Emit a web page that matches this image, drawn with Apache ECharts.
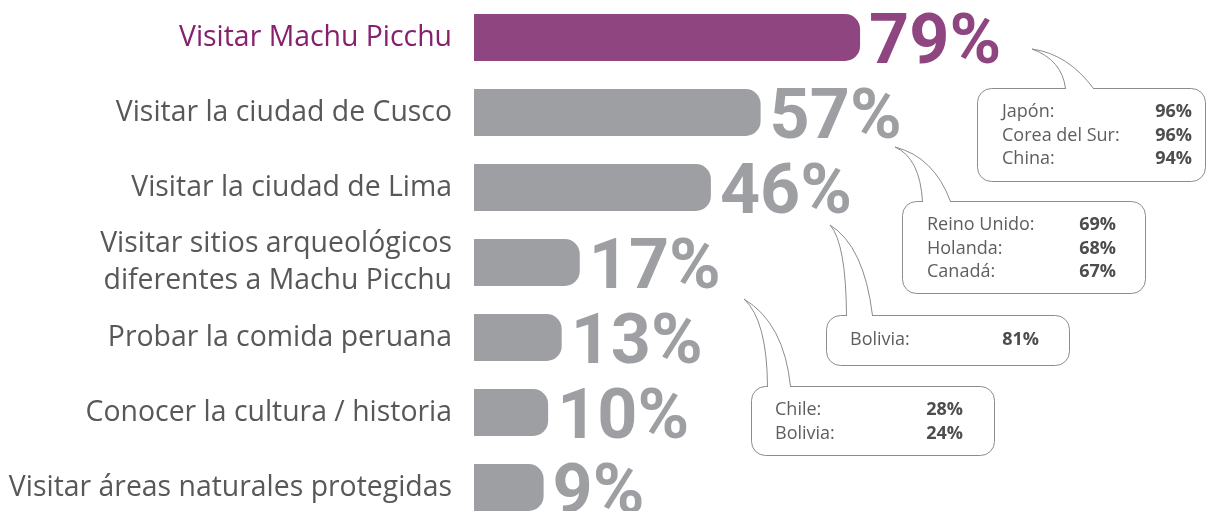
<!DOCTYPE html>
<html>
<head>
<meta charset="utf-8">
<script src="https://cdn.jsdelivr.net/npm/echarts@6/dist/echarts.min.js"></script>
<style>
html, body { margin: 0; padding: 0; background: #fff; }
#main { width: 1211px; height: 511px; }
</style>
</head>
<body>
<div id="main"></div>
<script>
var categorias = [
    'Visitar Machu Picchu',
    'Visitar la ciudad de Cusco',
    'Visitar la ciudad de Lima',
    'Visitar sitios arqueológicos\ndiferentes a Machu Picchu',
    'Probar la comida peruana',
    'Conocer la cultura / historia',
    'Visitar áreas naturales protegidas'
];
var valores = [79, 57, 46, 17, 13, 10, 9];
// paises destacados por motivo (globos)
var paises = [
    ['Japón:', 'Corea del Sur:', 'China:'],
    ['Reino Unido:', 'Holanda:', 'Canadá:'],
    ['Bolivia:'],
    ['Chile:', 'Bolivia:']
];
var paisesValores = [
    [96, 96, 94],
    [69, 68, 67],
    [81],
    [28, 24]
];

var morado = '#8f4580';
var gris = '#9e9fa3';
var linea = '#8c8c8c';

var myChart = echarts.init(document.getElementById('main'));

// posicion de cada globo (solo maquetacion)
var globos = [
    {x: 977, y: 88, w: 228, h: 93, tip: [1032, 49], bl: 1065, br: 1093, cl: [1062, 60], cr: [1068, 54], tx: 1002, vx: 1192, ty: 112},
    {x: 902, y: 201, w: 243, h: 92, tip: [895, 147], bl: 922, br: 950, cl: [920, 158], cr: [934, 157], tx: 927, vx: 1116, ty: 225},
    {x: 826, y: 315, w: 243, h: 50, tip: [830, 225], bl: 846, br: 872, cl: [846, 243], cr: [864, 246], tx: 850, vx: 1039, ty: 340},
    {x: 751, y: 386, w: 243, h: 69, tip: [744, 299], bl: 767, br: 790, cl: [767, 320], cr: [784, 323], tx: 775, vx: 963, ty: 410}
];

var graficos = [];
globos.forEach(function (g, k) {
    graficos.push({
        type: 'rect', z: 10,
        shape: {x: g.x + 0.5, y: g.y + 0.5, width: g.w, height: g.h, r: 14},
        style: {fill: '#fff', stroke: linea, lineWidth: 1}
    });
    graficos.push({
        type: 'rect', z: 11,
        shape: {x: g.bl + 1, y: g.y - 1, width: g.br - g.bl - 1, height: 3},
        style: {fill: '#fff'}
    });
    graficos.push({
        type: 'bezierCurve', z: 12,
        shape: {x1: g.tip[0], y1: g.tip[1], x2: g.bl + 0.5, y2: g.y + 0.5, cpx1: g.cl[0], cpy1: g.cl[1]},
        style: {stroke: linea, lineWidth: 1, fill: null}
    });
    graficos.push({
        type: 'bezierCurve', z: 12,
        shape: {x1: g.tip[0], y1: g.tip[1], x2: g.br + 0.5, y2: g.y + 0.5, cpx1: g.cr[0], cpy1: g.cr[1]},
        style: {stroke: linea, lineWidth: 1, fill: null}
    });
    paises[k].forEach(function (p, j) {
        graficos.push({
            type: 'text', z: 13, x: g.tx, y: g.ty + j * 23.5,
            style: {text: p, fill: '#5e5e60', font: '18px "Open Sans"', textAlign: 'left', textVerticalAlign: 'middle'}
        });
        graficos.push({
            type: 'text', z: 13, x: g.vx, y: g.ty + j * 23.5,
            style: {text: paisesValores[k][j] + '%', fill: '#4d4d4f', font: 'bold 18px "Open Sans"', textAlign: 'right', textVerticalAlign: 'middle'}
        });
    });
});

option = {
    animation: false,
    grid: {
        left: 474,
        top: 0,
        width: 481,
        height: 525,
        outerBoundsMode: 'none'
    },
    xAxis: {
        type: 'value',
        show: false,
        min: -6.4,
        max: 100,
        startValue: -6.4,
        splitLine: {show: false}
    },
    yAxis: {
        type: 'category',
        inverse: true,
        data: categorias,
        axisLine: {show: false},
        axisTick: {show: false},
        axisLabel: {
            margin: 22,
            fontFamily: 'Open Sans',
            fontSize: 28.4,
            lineHeight: 37,
            color: function (v, i) {
                return i === 0 ? '#86206f' : '#58585a';
            }
        }
    },
    series: [
        {
            type: 'bar',
            barWidth: 47,
            silent: true,
            data: valores.map(function (v, i) {
                var c = i === 0 ? morado : gris;
                return {value: v, itemStyle: {color: c}, label: {color: c}};
            }),
            itemStyle: {borderRadius: [0, 15, 15, 0]},
            label: {
                show: true,
                position: 'right',
                distance: 9,
                formatter: '{c}%',
                fontFamily: 'Roboto',
                fontWeight: 'bold',
                fontSize: 70,
                offset: [0, 8]
            }
        }
    ],
    graphic: graficos
};

myChart.setOption(option);
</script>
</body>
</html>
